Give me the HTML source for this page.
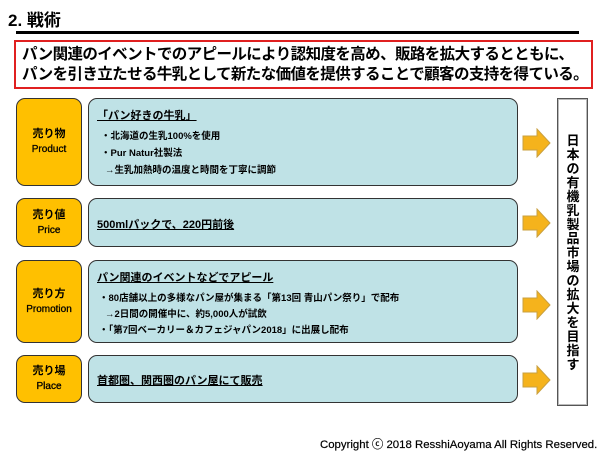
<!DOCTYPE html>
<html><head><meta charset="utf-8"><style>
*{margin:0;padding:0;box-sizing:border-box}
body{width:600px;height:450px;background:#fff;position:relative;overflow:hidden;font-family:"Liberation Sans","Noto Sans CJK JP",sans-serif;font-weight:bold;color:#000}
.a{position:absolute}
.y{position:absolute;left:16px;width:66px;background:#ffc000;border:1.5px solid #333;border-radius:9px;display:flex;flex-direction:column;justify-content:center;align-items:center;font-size:11px;line-height:15px;text-align:center}
.y span{font-size:10px;font-weight:normal;-webkit-text-stroke:0.3px #000}
.c{position:absolute;left:88px;width:430px;background:#bfe2e6;border:1.5px solid #333;border-radius:9px;font-size:9px}
.h{font-size:11px;text-decoration:underline;position:absolute;left:8px}
.l{position:absolute;font-size:9.5px;white-space:nowrap}
.ar{position:absolute;left:522px}
</style></head><body>
<div class="a" style="left:8px;top:6px;font-size:17px">2. 戦術</div>
<div class="a" style="left:16px;top:31px;width:563px;height:3px;background:#000"></div>
<div class="a" style="left:14px;top:40px;width:579px;height:49px;border:2px solid #e02020;font-size:15.5px;line-height:20px;padding:3px 0 0 6px;white-space:nowrap;letter-spacing:-0.6px">パン関連のイベントでのアピールにより認知度を高め、販路を拡大するとともに、<br>パンを引き立たせる牛乳として新たな価値を提供することで顧客の支持を得ている。</div>

<div class="y" style="top:98px;height:88px">売り物<span>Product</span></div>
<div class="c" style="top:98px;height:88px">
<div class="h" style="top:8px">「パン好きの牛乳」</div>
<div class="l" style="left:12px;top:29px">・北海道の生乳100%を使用</div>
<div class="l" style="left:12px;top:46px">・Pur Natur社製法</div>
<div class="l" style="left:16px;top:63px">→生乳加熱時の温度と時間を丁寧に調節</div>
</div>

<div class="y" style="top:198px;height:49px">売り値<span>Price</span></div>
<div class="c" style="top:198px;height:49px"><div class="h" style="top:17px">500mlパックで、220円前後</div></div>

<div class="y" style="top:260px;height:83px">売り方<span>Promotion</span></div>
<div class="c" style="top:260px;height:83px">
<div class="h" style="top:8px">パン関連のイベントなどでアピール</div>
<div class="l" style="left:10px;top:29px">・80店舗以上の多様なパン屋が集まる「第13回 青山パン祭り」で配布</div>
<div class="l" style="left:16px;top:45px">→2日間の開催中に、約5,000人が試飲</div>
<div class="l" style="left:10px;top:61px">・「第7回ベーカリー＆カフェジャパン2018」に出展し配布</div>
</div>

<div class="y" style="top:355px;height:48px">売り場<span>Place</span></div>
<div class="c" style="top:355px;height:48px"><div class="h" style="top:16px">首都圏、関西圏のパン屋にて販売</div></div>

<svg class="ar" style="top:128px" width="30" height="30"><polygon points="1,8 15,8 15,1 28,15 15,29 15,22 1,22" fill="#f5b31c" stroke="#c9a040" stroke-width="1"/></svg>
<svg class="ar" style="top:208px" width="30" height="30"><polygon points="1,8 15,8 15,1 28,15 15,29 15,22 1,22" fill="#f5b31c" stroke="#c9a040" stroke-width="1"/></svg>
<svg class="ar" style="top:290px" width="30" height="30"><polygon points="1,8 15,8 15,1 28,15 15,29 15,22 1,22" fill="#f5b31c" stroke="#c9a040" stroke-width="1"/></svg>
<svg class="ar" style="top:365px" width="30" height="30"><polygon points="1,8 15,8 15,1 28,15 15,29 15,22 1,22" fill="#f5b31c" stroke="#c9a040" stroke-width="1"/></svg>

<div class="a" style="left:557px;top:98px;width:31px;height:308px;border:1.5px solid #555;box-shadow:inset 0 0 0 1px #bbb"></div>
<div class="a" style="left:563px;top:134px;width:20px;font-size:13px;line-height:14px;text-align:center">日<br>本<br>の<br>有<br>機<br>乳<br>製<br>品<br>市<br>場<br>の<br>拡<br>大<br>を<br>目<br>指<br>す</div>

<div class="a" style="left:320px;top:436px;font-size:11.4px;font-weight:normal;-webkit-text-stroke:0.2px #000;white-space:nowrap">Copyright ⓒ 2018 ResshiAoyama All Rights Reserved.</div>
</body></html>
